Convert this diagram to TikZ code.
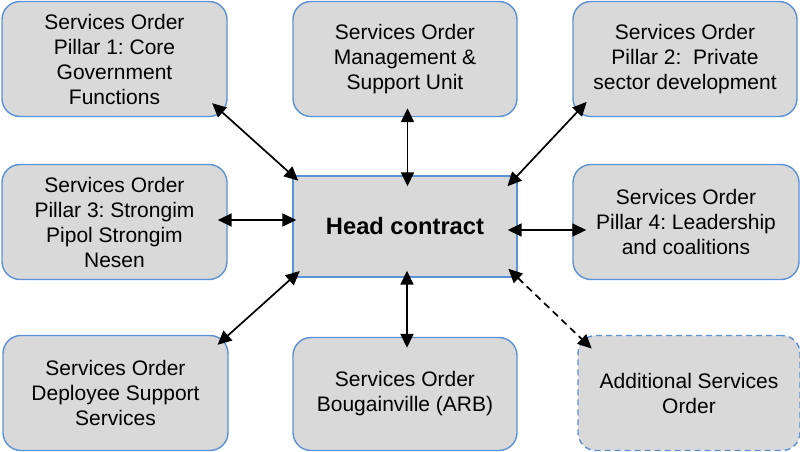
\documentclass[tikz,border=0pt]{standalone}
\usepackage{fontspec}
\setmainfont{Liberation Sans}
\frenchspacing
\usetikzlibrary{arrows.meta}
\definecolor{boxblue}{RGB}{91,145,213}
\definecolor{boxgrey}{RGB}{217,217,217}
\tikzstyle{order} = [rectangle, rounded corners=18pt, 
minimum width=225pt, 
minimum height=115pt, 
text centered, align=center, 
draw=boxblue, line width=1.4pt, 
fill=boxgrey, 
font=\fontsize{21}{25}\selectfont]
\tikzstyle{extra} = [order, 
dash pattern=on 6pt off 4pt]
\tikzstyle{headbox} = [rectangle, 
minimum width=224pt, 
minimum height=101pt, 
text centered, 
draw=boxblue, line width=1.4pt, 
fill=boxgrey, 
font=\fontsize{23.7}{28}\selectfont\bfseries]
\tikzstyle{arrow} = [line width=1.7pt, 
{Triangle[length=14pt,width=13pt]}-{Triangle[length=14pt,width=13pt]}]
\begin{document}
\begin{tikzpicture}[x=1pt, y=-1pt]
\useasboundingbox (0,0) rectangle (800,452);

\node (head) [headbox] at (405,226.5) {Head contract};

\node (core) [order] at (114.5,59) {Services Order\\Pillar 1: Core\\Government\\Functions};
\draw [arrow, shorten <=-21pt, shorten >=-8pt] (core.south east) -- (head.north west);

\node (msu) [order, minimum width=224pt] at (405,59) {Services Order\\Management \&\\Support Unit};
\draw [arrow, shorten <=-9pt, shorten >=-11pt] ([xshift=2.5pt]msu.south) -- ([xshift=2.5pt]head.north);

\node (private) [order, minimum width=224pt] at (685,59) {Services Order\\Pillar 2: \ Private\\sector development};
\draw [arrow, shorten <=-21pt, shorten >=-15pt] (private.south west) -- (head.north east);

\node (strongim) [order] at (114.5,222) {Services Order\\Pillar 3: Strongim\\Pipol Strongim\\Nesen};
\coordinate (lefty) at ([yshift=2pt]strongim.east);
\draw [arrow, shorten <=-10pt, shorten >=-4pt] (lefty) -- (lefty -| head.west);

\node (leader) [order, minimum width=226pt] at (686,222) {Services Order\\Pillar 4: Leadership\\and coalitions};
\coordinate (righty) at ([yshift=-3.5pt]head.east);
\draw [arrow, shorten <=-10pt, shorten >=-14pt] (righty) -- (righty -| leader.west);

\node (deploy) [order] at (115.5,393) {Services Order\\Deployee Support\\Services};
\draw [arrow, shorten <=-15pt, shorten >=-10pt] (deploy.north east) -- (head.south west);

\node (arb) [order, minimum width=224pt, minimum height=113pt] at (405,394) {Services Order\\Bougainville (ARB)};
\draw [arrow, shorten <=-7pt, shorten >=-11pt] ([xshift=2pt]head.south) -- ([xshift=2pt]arb.north);

\node (additional) [extra, minimum width=222pt] at (689,393) {Additional Services\\Order};
\draw [arrow, dash pattern=on 7pt off 5pt, shorten <=-13pt, shorten >=-20pt] (head.south east) -- (additional.north west);

\end{tikzpicture}
\end{document}
